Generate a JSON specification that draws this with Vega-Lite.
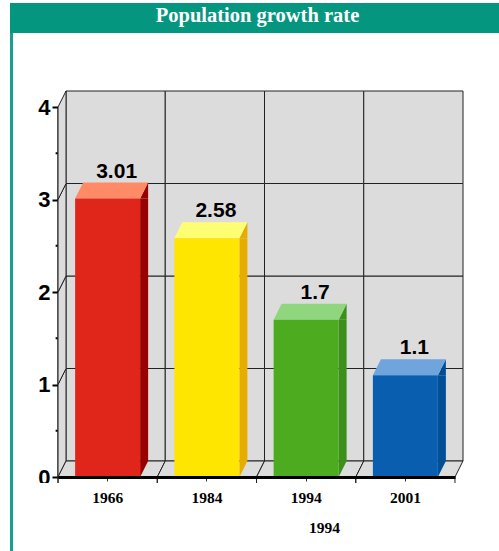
{
"$schema":"https://vega.github.io/schema/vega-lite/v6.json",
"width":499,"height":551,"autosize":"none","padding":0,"background":"white",
"title":{"text":"Population growth rate","font":"Liberation Serif","fontWeight":"bold","fontSize":20.5,"color":"white","anchor":"middle","dx":8,"offset":-26,"zindex":1},
"config":{"view":{"stroke":null}},
"datasets":{
"bars":[{"year":"1966","value":3.01,"base":0},{"year":"1984","value":2.58,"base":0},{"year":"1994","value":1.7,"base":0},{"year":"2001","value":1.1,"base":0}],
"wall":[
{"year":"1966","value":0,"top":1},{"year":"1966","value":1,"top":2},{"year":"1966","value":2,"top":3},{"year":"1966","value":3,"top":4},
{"year":"1984","value":0,"top":1},{"year":"1984","value":1,"top":2},{"year":"1984","value":2,"top":3},{"year":"1984","value":3,"top":4},
{"year":"1994","value":0,"top":1},{"year":"1994","value":1,"top":2},{"year":"1994","value":2,"top":3},{"year":"1994","value":3,"top":4},
{"year":"2001","value":0,"top":1},{"year":"2001","value":1,"top":2},{"year":"2001","value":2,"top":3},{"year":"2001","value":3,"top":4}],
"minor":[{"year":"1966","value":0.5},{"year":"1966","value":1.5},{"year":"1966","value":2.5},{"year":"1966","value":3.5}]
},
"encoding":{
"x":{"field":"year","type":"nominal","scale":{"type":"band","domain":["1966","1984","1994","2001"],"range":[58,455],"paddingInner":0,"paddingOuter":0},
"axis":{"orient":"bottom","offset":-74,"title":"1994","titleFont":"Liberation Serif","titleFontSize":15.5,"titleFontWeight":"bold","titleColor":"black","titleX":324,"titleY":55,"titleAnchor":"middle","titleBaseline":"alphabetic","labelFont":"Liberation Serif","labelFontSize":15.5,"labelFontWeight":"bold","labelColor":"black","labelAngle":0,"labelPadding":9,"tickColor":"#333","tickSize":4,"tickWidth":1,"domainColor":"black","domainWidth":3,"grid":false,"zindex":1}},
"y":{"field":"value","type":"quantitative","stack":null,"scale":{"domain":[0,4],"range":[477,107],"nice":false,"zero":false},
"axis":{"orient":"left","offset":-58,"title":null,"values":[0,1,2,3,4],"format":"d","labelFont":"Liberation Sans","labelFontSize":22,"labelFontWeight":"bold","labelColor":"black","labelPadding":2,"tickColor":"black","tickSize":6,"tickWidth":2,"domainColor":"black","domainWidth":2,"grid":false,"zindex":0}}
},
"layer":[
{"data":{"values":[{"k":"mask"}]},"mark":{"type":"rect","fill":"white"},"encoding":{"x":{"value":30},"x2":{"value":56},"y":{"value":483},"y2":{"value":500}}},
{"data":{"values":[{"k":"header"}]},"mark":{"type":"rect","fill":"#05967f"},"encoding":{"x":{"value":10},"x2":{"value":499},"y":{"value":3},"y2":{"value":33}}},
{"data":{"values":[{"k":"edge"}]},"mark":{"type":"rect","fill":"#18a08c"},"encoding":{"x":{"value":10},"x2":{"value":13},"y":{"value":33},"y2":{"value":551}}},
{"data":{"name":"wall"},"mark":{"type":"bar","fill":"#dcdcdc","stroke":"#222","strokeWidth":1,"xOffset":8,"yOffset":-16,"y2Offset":-16},"encoding":{"y2":{"field":"top"}}},
{"data":{"name":"wall"},"transform":[{"filter":"datum.year=='1966'"}],"mark":{"type":"point","filled":true,"opacity":1,"size":4,"fill":"#dcdcdc","stroke":"#222","strokeWidth":1,"shape":"M-49.6 0 L-41.6 -16 L-41.6 -108.5 L-49.6 -92.5 Z"}},
{"data":{"name":"wall"},"transform":[{"filter":"datum.value==0"}],"mark":{"type":"point","filled":true,"opacity":1,"size":4,"fill":"#dcdcdc","stroke":"#222","strokeWidth":1,"shape":"M-49.6 6 L-49.6 0 L-41.6 -16 L57.6 -16 L49.6 0 L-49.6 0 Z"}},
{"data":{"name":"wall"},"transform":[{"filter":"datum.value==0&&datum.year=='2001'"}],"mark":{"type":"point","filled":false,"opacity":1,"size":4,"stroke":"#222","strokeWidth":1,"shape":"M49.6 6 L49.6 0"}},
{"data":{"name":"minor"},"mark":{"type":"point","filled":false,"opacity":1,"size":4,"stroke":"black","strokeWidth":2,"shape":"M-52 0 L-50 0"}},
{"data":{"name":"bars"},"mark":{"type":"bar","width":8,"xOffset":36.5,"y2Offset":-16},"encoding":{"y2":{"field":"base"},"fill":{"field":"year","legend":null,"scale":{"domain":["1966","1984","1994","2001"],"range":["#990000","#e6ac00","#3d8f1c","#004f94"]}}}},
{"data":{"name":"bars"},"mark":{"type":"point","filled":true,"opacity":1,"size":4,"shape":"M32.5 0 L40.5 -16 L40.5 0 Z"},"encoding":{"fill":{"field":"year","legend":null,"scale":{"domain":["1966","1984","1994","2001"],"range":["#990000","#e6ac00","#3d8f1c","#004f94"]}}}},
{"data":{"name":"wall"},"transform":[{"filter":"datum.value==0"}],"mark":{"type":"point","filled":true,"opacity":1,"size":4,"shape":"M32.5 0 L40.5 -16 L32.5 -16 Z"},"encoding":{"fill":{"field":"year","legend":null,"scale":{"domain":["1966","1984","1994","2001"],"range":["#990000","#e6ac00","#3d8f1c","#004f94"]}}}},
{"data":{"name":"bars"},"mark":{"type":"point","filled":true,"opacity":1,"size":4,"shape":"M-32.5 0 L32.5 0 L40.5 -16 L-24.5 -16 Z"},"encoding":{"fill":{"field":"year","legend":null,"scale":{"domain":["1966","1984","1994","2001"],"range":["#ff8a66","#ffff73","#8fd67e","#6fa5dc"]}}}},
{"data":{"name":"bars"},"mark":{"type":"bar","width":65},"encoding":{"y2":{"field":"base"},"fill":{"field":"year","legend":null,"scale":{"domain":["1966","1984","1994","2001"],"range":["#e0251a","#ffe600","#4cab1e","#0a5eb0"]}}}},
{"data":{"name":"bars"},"mark":{"type":"text","font":"Liberation Sans","fontSize":21,"fontWeight":"bold","color":"black","baseline":"alphabetic","dx":9,"dy":-21},"encoding":{"text":{"field":"value","type":"quantitative","format":"~r"}}}
],
"resolve":{"scale":{"fill":"independent"}}
}
